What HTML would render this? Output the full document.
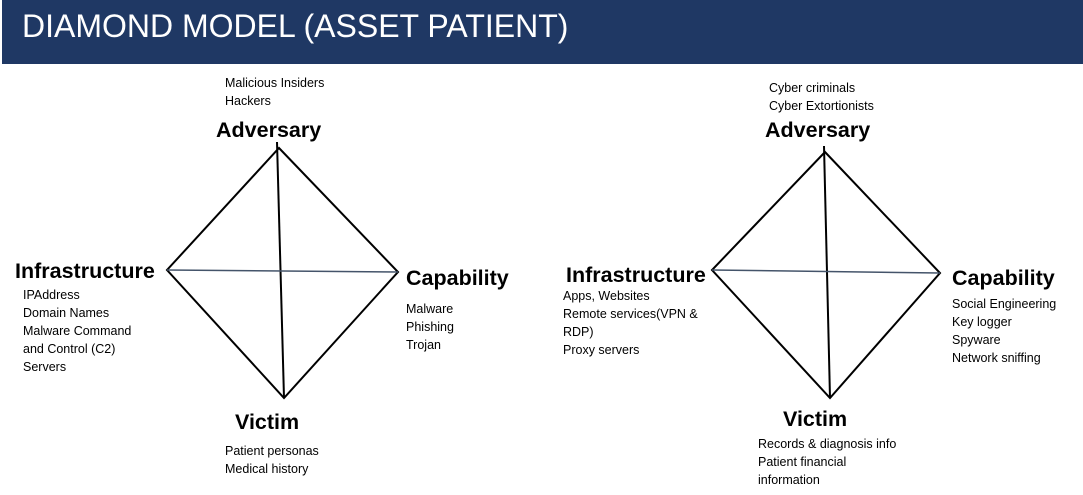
<!DOCTYPE html>
<html><head><meta charset="utf-8"><style>
body{margin:0;background:#fff;width:1083px;height:495px;overflow:hidden}
svg{display:block}
.s{font-family:"Liberation Sans",sans-serif;font-size:12.5px;fill:#000}
.b{font-family:"Liberation Sans",sans-serif;font-size:21.5px;font-weight:bold;fill:#000}
</style></head><body>
<svg width="1083" height="495" viewBox="0 0 1083 495">
<rect x="2" y="0" width="1081" height="64" fill="#1f3864"/>
<text x="22" y="37" font-family="Liberation Sans,sans-serif" font-size="32" fill="#fff">DIAMOND MODEL (ASSET PATIENT)</text>
<g stroke="#000" stroke-width="2" fill="none">
<polygon points="279,148 398,272 284,398 167,270"/>
<line x1="277" y1="142" x2="284" y2="398"/>
<polygon points="825,152 940,273 830,398 712,270"/>
<line x1="824" y1="146" x2="830" y2="398"/>
</g>
<line x1="167" y1="270" x2="398" y2="272" stroke="#44546a" stroke-width="1.5"/>
<line x1="712" y1="270" x2="940" y2="273" stroke="#44546a" stroke-width="1.5"/>
<text class="s" x="225" y="87">Malicious Insiders</text>
<text class="s" x="225" y="105">Hackers</text>
<text class="b" x="216" y="137">Adversary</text>
<text class="b" x="15" y="278">Infrastructure</text>
<text class="s" x="23" y="299">IPAddress</text>
<text class="s" x="23" y="317">Domain Names</text>
<text class="s" x="23" y="335">Malware Command</text>
<text class="s" x="23" y="353">and Control (C2)</text>
<text class="s" x="23" y="371">Servers</text>
<text class="b" x="406" y="285">Capability</text>
<text class="s" x="406" y="313">Malware</text>
<text class="s" x="406" y="331">Phishing</text>
<text class="s" x="406" y="349">Trojan</text>
<text class="b" x="235" y="429">Victim</text>
<text class="s" x="225" y="455">Patient personas</text>
<text class="s" x="225" y="473">Medical history</text>
<text class="s" x="769" y="92">Cyber criminals</text>
<text class="s" x="769" y="110">Cyber Extortionists</text>
<text class="b" x="765" y="137">Adversary</text>
<text class="b" x="566" y="282">Infrastructure</text>
<text class="s" x="563" y="300">Apps, Websites</text>
<text class="s" x="563" y="318">Remote services(VPN &amp;</text>
<text class="s" x="563" y="336">RDP)</text>
<text class="s" x="563" y="354">Proxy servers</text>
<text class="b" x="952" y="285">Capability</text>
<text class="s" x="952" y="308">Social Engineering</text>
<text class="s" x="952" y="326">Key logger</text>
<text class="s" x="952" y="344">Spyware</text>
<text class="s" x="952" y="362">Network sniffing</text>
<text class="b" x="783" y="426">Victim</text>
<text class="s" x="758" y="448">Records &amp; diagnosis info</text>
<text class="s" x="758" y="466">Patient financial</text>
<text class="s" x="758" y="484">information</text>
</svg>
</body></html>
